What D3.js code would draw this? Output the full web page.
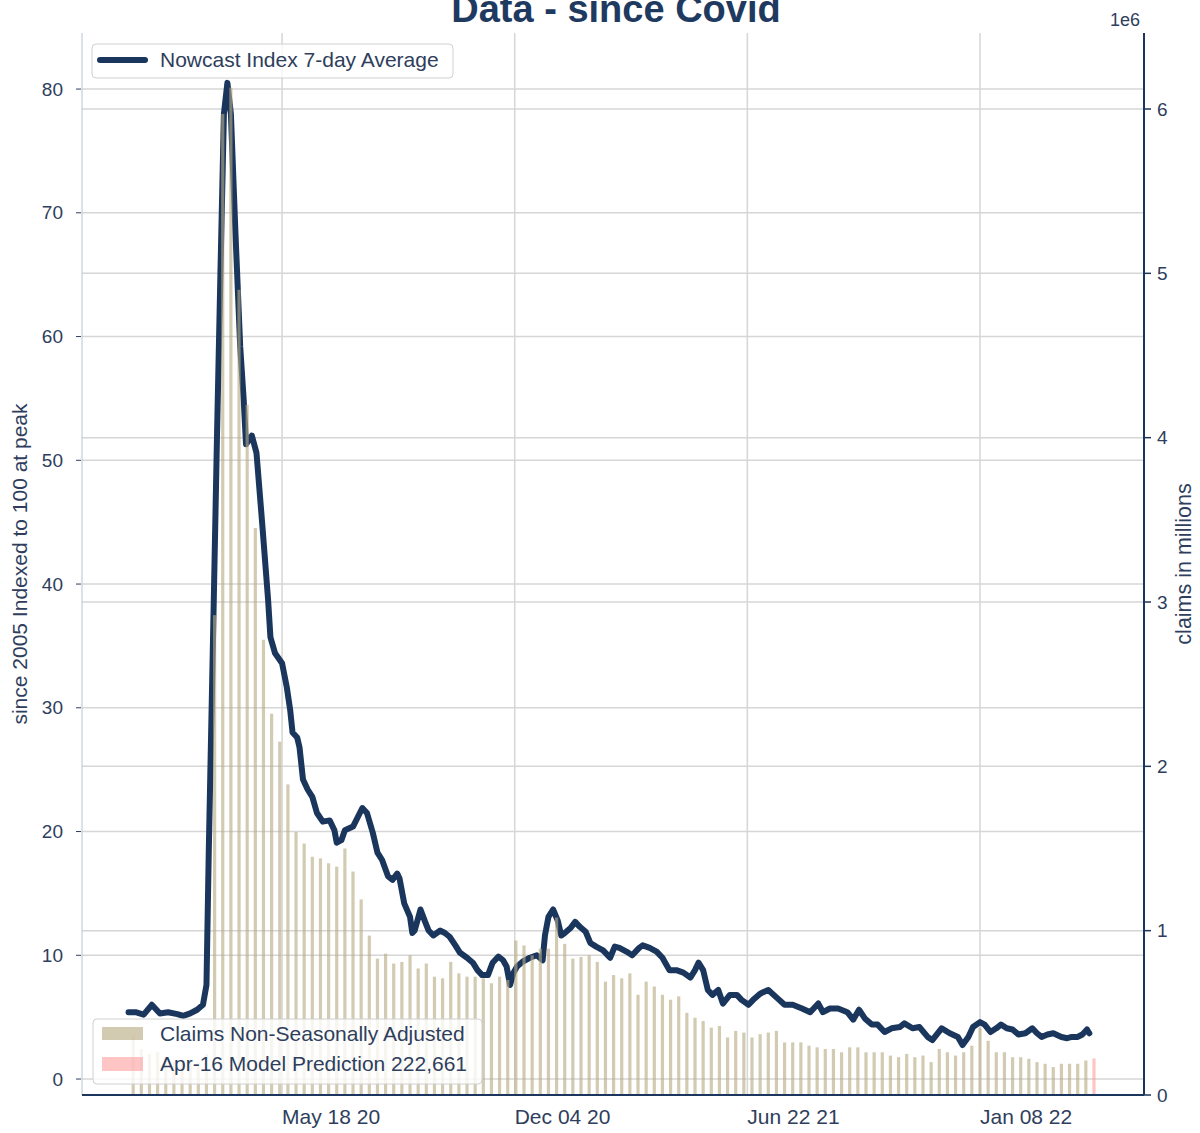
<!DOCTYPE html>
<html>
<head>
<meta charset="utf-8">
<script src="https://cdn.jsdelivr.net/npm/d3@7"></script>
<style>
  body { margin: 0; background: #fff; }
  svg text { font-family: "Liberation Sans", Arial, sans-serif; }
</style>
</head>
<body>
<div id="chart"></div>
<script>

// Nowcast index, 7-day average (left axis)
var lineDates = [
  '2020-01-07','2020-01-13','2020-01-20','2020-01-27','2020-02-03','2020-02-10','2020-02-18','2020-02-23','2020-02-29','2020-03-06',
  '2020-03-11','2020-03-14','2020-03-16','2020-03-20','2020-03-23','2020-03-26','2020-03-29','2020-04-01','2020-04-04','2020-04-08',
  '2020-04-12','2020-04-15','2020-04-17','2020-04-22','2020-04-26','2020-05-01','2020-05-06',
  '2020-05-08','2020-05-12','2020-05-18','2020-05-22','2020-05-25','2020-05-27','2020-05-31','2020-06-02','2020-06-05','2020-06-09',
  '2020-06-13','2020-06-17','2020-06-22','2020-06-28','2020-07-02','2020-07-04','2020-07-08','2020-07-11','2020-07-18','2020-07-26',
  '2020-07-30','2020-08-04','2020-08-08','2020-08-12','2020-08-17','2020-08-21','2020-08-25','2020-08-27','2020-08-31','2020-09-05',
  '2020-09-07','2020-09-09','2020-09-14','2020-09-18','2020-09-21','2020-09-25','2020-10-01','2020-10-05','2020-10-09','2020-10-14',
  '2020-10-18','2020-10-24','2020-10-29','2020-11-02','2020-11-06','2020-11-11','2020-11-15','2020-11-20','2020-11-24','2020-11-27',
  '2020-11-30','2020-12-03','2020-12-06','2020-12-11','2020-12-17','2020-12-23','2020-12-28','2020-12-30','2021-01-02','2021-01-06',
  '2021-01-10','2021-01-13','2021-01-16','2021-01-21','2021-01-25','2021-01-29','2021-02-03','2021-02-07','2021-02-12','2021-02-18',
  '2021-02-24','2021-02-28','2021-03-04','2021-03-10','2021-03-15','2021-03-21','2021-03-24','2021-03-30','2021-04-05','2021-04-10',
  '2021-04-16','2021-04-22','2021-04-28','2021-05-04','2021-05-08','2021-05-11','2021-05-15','2021-05-19','2021-05-23','2021-05-28',
  '2021-06-01','2021-06-07','2021-06-13','2021-06-17','2021-06-23','2021-06-27','2021-07-03','2021-07-10','2021-07-17','2021-07-24',
  '2021-07-31','2021-08-08','2021-08-15','2021-08-22','2021-08-26','2021-09-01','2021-09-08','2021-09-16','2021-09-21','2021-09-26',
  '2021-10-01','2021-10-07','2021-10-12','2021-10-18','2021-10-24','2021-10-31','2021-11-04','2021-11-11','2021-11-17','2021-11-24',
  '2021-11-28','2021-12-06','2021-12-13','2021-12-20','2021-12-24','2021-12-29','2022-01-02','2022-01-08','2022-01-12','2022-01-17',
  '2022-01-22','2022-01-26','2022-01-31','2022-02-05','2022-02-10','2022-02-16','2022-02-22','2022-02-26','2022-03-02','2022-03-07',
  '2022-03-12','2022-03-19','2022-03-24','2022-03-28','2022-04-02','2022-04-06','2022-04-10','2022-04-12'
];
var lineValues = [
  5.4, 5.4, 5.2, 6.0, 5.3, 5.4, 5.25, 5.1, 5.3, 5.6,
  6.0, 7.6, 18.5, 37.3, 51.7, 65.1, 78.0, 80.5, 78.0, 68.2,
  59.2, 54.9, 51.3, 52.0, 50.6, 44.8, 38.7,
  35.7, 34.4, 33.6, 31.7, 29.8, 28.0, 27.6, 26.8, 24.2, 23.4,
  22.8, 21.5, 20.8, 20.9, 20.1, 19.1, 19.3, 20.1, 20.4, 21.9,
  21.5, 19.9, 18.3, 17.7, 16.4, 16.1, 16.6, 16.2, 14.2, 13.1,
  11.8, 12.0, 13.7, 12.7, 12.0, 11.6, 12.0, 11.8, 11.5, 10.8,
  10.2, 9.8, 9.4, 8.8, 8.4, 8.4, 9.4, 9.9, 9.6, 9.1,
  7.6, 8.6, 9.1, 9.5, 9.8, 10.0, 9.6, 11.6, 13.1, 13.7,
  12.8, 11.6, 11.8, 12.2, 12.7, 12.3, 11.9, 11.0, 10.7, 10.4,
  9.8, 10.7, 10.6, 10.3, 10.0, 10.6, 10.8, 10.6, 10.3, 9.8,
  8.8, 8.8, 8.6, 8.2, 8.8, 9.4, 8.8, 7.2, 6.8, 7.2,
  6.1, 6.8, 6.8, 6.4, 6.0, 6.4, 6.9, 7.2, 6.6, 6.0,
  6.0, 5.7, 5.4, 6.1, 5.4, 5.7, 5.7, 5.4, 4.8, 5.6,
  4.9, 4.4, 4.4, 3.8, 4.1, 4.2, 4.5, 4.1, 4.2, 3.4,
  3.15, 4.1, 3.7, 3.4, 2.75, 3.4, 4.2, 4.6, 4.4, 3.8,
  4.1, 4.4, 4.1, 4.0, 3.6, 3.7, 4.1, 3.7, 3.4, 3.6,
  3.7, 3.4, 3.3, 3.4, 3.4, 3.6, 4.0, 3.7
];

// weekly non-seasonally adjusted claims, millions, weeks ending Saturday from 2020-01-11
var claimsStart = '2020-01-11';
var claimsValues = [
  0.36, 0.28, 0.25,                     // Jan 20
  0.26, 0.23, 0.20, 0.21, 0.22,         // Feb
  0.20, 0.25, 2.92, 5.97,               // Mar
  6.13, 4.90, 4.20, 3.45,               // Apr
  2.77, 2.32, 2.15, 1.89, 1.60,         // May
  1.53, 1.45, 1.44, 1.41,               // Jun
  1.39, 1.50, 1.36, 1.19,               // Jul
  0.97, 0.83, 0.86, 0.80, 0.81,         // Aug
  0.85, 0.77, 0.80, 0.72,               // Sep
  0.71, 0.81, 0.74, 0.72, 0.72,         // Oct
  0.71, 0.68, 0.72, 0.70,               // Nov
  0.94, 0.91, 0.85, 0.89,               // Dec
  0.89, 1.08, 0.92, 0.83, 0.84,         // Jan 21
  0.85, 0.81, 0.69, 0.73,               // Feb
  0.71, 0.74, 0.61, 0.69,               // Mar
  0.66, 0.61, 0.58, 0.60,               // Apr
  0.50, 0.47, 0.45, 0.41, 0.42,         // May
  0.35, 0.39, 0.38, 0.35,               // Jun
  0.37, 0.38, 0.39, 0.32, 0.32,         // Jul
  0.32, 0.30, 0.29, 0.28,               // Aug
  0.28, 0.26, 0.29, 0.29,               // Sep
  0.26, 0.26, 0.26, 0.24, 0.23,         // Oct
  0.25, 0.23, 0.24, 0.20,               // Nov
  0.28, 0.26, 0.24, 0.26,               // Dec
  0.30, 0.41, 0.33, 0.26, 0.26,         // Jan 22
  0.23, 0.23, 0.22, 0.20,               // Feb
  0.19, 0.17, 0.19, 0.19,               // Mar
  0.19, 0.21                            // Apr
];

var predictionDate  = '2022-04-16';
var predictionValue = 222661;

var xTickDates  = ['2020-05-18', '2020-12-04', '2021-06-22', '2022-01-08'];
var leftTicks   = [0, 10, 20, 30, 40, 50, 60, 70, 80];
var rightTicks  = [0, 1, 2, 3, 4, 5, 6];

var legendTop    = ['Nowcast Index 7-day Average'];
var legendBottom = ['Claims Non-Seasonally Adjusted', 'Apr-16 Model Prediction 222,661'];

var W = 1200, H = 1133;
var margin = {top: 33, right: 56, bottom: 38, left: 82};
var width  = W - margin.left - margin.right;
var height = H - margin.top - margin.bottom;

var navy  = '#1b365d';
var txt   = '#2e3e5c';
var gridC = '#d6d6d6';
var tan   = '#b7ab82';
var pink  = '#ff9c9c';

var parse = d3.utcParse('%Y-%m-%d');

var line = lineDates.map(function(d, i) { return {date: parse(d), value: lineValues[i]}; });

var claims = claimsValues.map(function(v, i) {
  return {date: d3.utcDay.offset(parse(claimsStart), 7 * i), value: v * 1e6};
});

var x = d3.scaleUtc()
  .domain([parse('2019-11-28'), parse('2022-05-29')])
  .range([0, width]);

var yL = d3.scaleLinear()
  .domain([-1.29, 84.53])
  .range([height, 0]);

var yR = d3.scaleLinear()
  .domain([0, 6.4625e6])
  .range([height, 0]);

var svg = d3.select('#chart').append('svg')
  .attr('width', W)
  .attr('height', H);

var g = svg.append('g')
  .attr('transform', 'translate(' + margin.left + ',' + margin.top + ')');

// grids
g.append('g').selectAll('line')
  .data(leftTicks)
.enter().append('line')
  .attr('x1', 0).attr('x2', width)
  .attr('y1', function(d) { return yL(d); })
  .attr('y2', function(d) { return yL(d); })
  .attr('stroke', gridC).attr('stroke-width', 1.5);

g.append('g').selectAll('line')
  .data(rightTicks)
.enter().append('line')
  .attr('x1', 0).attr('x2', width)
  .attr('y1', function(d) { return yR(d * 1e6); })
  .attr('y2', function(d) { return yR(d * 1e6); })
  .attr('stroke', gridC).attr('stroke-width', 1.5);

g.append('g').selectAll('line')
  .data(xTickDates)
.enter().append('line')
  .attr('x1', function(d) { return x(parse(d)); })
  .attr('x2', function(d) { return x(parse(d)); })
  .attr('y1', 0).attr('y2', height)
  .attr('stroke', gridC).attr('stroke-width', 1.5);

// nowcast line
g.append('path')
  .datum(line)
  .attr('fill', 'none')
  .attr('stroke', navy)
  .attr('stroke-width', 6)
  .attr('stroke-linejoin', 'round')
  .attr('stroke-linecap', 'round')
  .attr('d', d3.line()
    .x(function(d) { return x(d.date); })
    .y(function(d) { return yL(d.value); }));

// bars on top, semi transparent
var halfBar = function(d) { return x(d3.utcHour.offset(d, 33)) - x(d); };

g.append('g').selectAll('.bar')
  .data(claims)
.enter().append('rect')
  .attr('class', 'bar')
  .attr('x', function(d) { return x(d.date) - halfBar(d.date); })
  .attr('y', function(d) { return yR(d.value); })
  .attr('width', function(d) { return 2 * halfBar(d.date); })
  .attr('height', function(d) { return height - yR(d.value); })
  .attr('fill', tan)
  .attr('fill-opacity', 0.62);

var pd = parse(predictionDate);
g.append('rect')
  .attr('x', x(pd) - halfBar(pd))
  .attr('y', yR(predictionValue))
  .attr('width', 2 * halfBar(pd))
  .attr('height', height - yR(predictionValue))
  .attr('fill', pink)
  .attr('fill-opacity', 0.6);

// spines
g.append('line')
  .attr('x1', 0).attr('x2', 0).attr('y1', 0).attr('y2', height)
  .attr('stroke', '#b9c1cf').attr('stroke-width', 1);
g.append('line')
  .attr('x1', width).attr('x2', width).attr('y1', 0).attr('y2', height)
  .attr('stroke', navy).attr('stroke-width', 2);
g.append('line')
  .attr('x1', 0).attr('x2', width).attr('y1', height).attr('y2', height)
  .attr('stroke', navy).attr('stroke-width', 2);

// left ticks
var lt = g.append('g').selectAll('g')
  .data(leftTicks)
.enter().append('g')
  .attr('transform', function(d) { return 'translate(0,' + yL(d) + ')'; });
lt.append('line')
  .attr('x1', -6).attr('x2', -1)
  .attr('stroke', txt).attr('stroke-width', 1);
lt.append('text')
  .attr('x', -19)
  .attr('dy', '0.35em')
  .style('text-anchor', 'end')
  .style('font-size', '19px')
  .attr('fill', txt)
  .text(function(d) { return d; });

// right ticks
var rt = g.append('g').selectAll('g')
  .data(rightTicks)
.enter().append('g')
  .attr('transform', function(d) { return 'translate(' + width + ',' + yR(d * 1e6) + ')'; });
rt.append('line')
  .attr('x1', 0).attr('x2', 7)
  .attr('stroke', navy).attr('stroke-width', 1.5);
rt.append('text')
  .attr('x', 13)
  .attr('dy', '0.35em')
  .style('font-size', '19px')
  .attr('fill', txt)
  .text(function(d) { return d; });

// x tick labels
var fmt = d3.utcFormat('%b %d %y');
g.append('g').selectAll('text')
  .data(xTickDates)
.enter().append('text')
  .attr('x', function(d) { return x(parse(d)); })
  .attr('y', height + 29)
  .style('font-size', '21px')
  .attr('fill', txt)
  .text(function(d) { return fmt(parse(d)); });

// axis labels
svg.append('text')
  .attr('transform', 'translate(27,' + (margin.top + height / 2) + ') rotate(-90)')
  .style('text-anchor', 'middle')
  .style('font-size', '21px')
  .attr('fill', txt)
  .text('since 2005 Indexed to 100 at peak');

svg.append('text')
  .attr('transform', 'translate(1191,' + (margin.top + height / 2) + ') rotate(-90)')
  .style('text-anchor', 'middle')
  .style('font-size', '21.5px')
  .attr('fill', txt)
  .text('claims in millions');

svg.append('text')
  .attr('x', 1140).attr('y', 26)
  .style('text-anchor', 'end')
  .style('font-size', '18px')
  .attr('fill', txt)
  .text('1e6');

// title (sits at the very top edge like the original)
svg.append('text')
  .attr('x', 616).attr('y', 22)
  .style('text-anchor', 'middle')
  .style('font-size', '38px')
  .style('font-weight', 'bold')
  .attr('fill', '#1f3a60')
  .text('Data - since Covid');

// legend top
var l1 = svg.append('g');
l1.append('rect')
  .attr('x', 92).attr('y', 44).attr('width', 361).attr('height', 34).attr('rx', 4)
  .attr('fill', '#fff').attr('fill-opacity', 0.8)
  .attr('stroke', '#d0d0d0');
l1.append('line')
  .attr('x1', 100).attr('x2', 145).attr('y1', 60).attr('y2', 60)
  .attr('stroke', navy).attr('stroke-width', 6).attr('stroke-linecap', 'round');
l1.append('text')
  .attr('x', 160).attr('y', 67)
  .style('font-size', '21px')
  .attr('fill', txt)
  .text(legendTop[0]);

// legend bottom
var l2 = svg.append('g');
l2.append('rect')
  .attr('x', 93).attr('y', 1019).attr('width', 389).attr('height', 65).attr('rx', 4)
  .attr('fill', '#fff').attr('fill-opacity', 0.8)
  .attr('stroke', '#d0d0d0');
l2.append('rect')
  .attr('x', 102).attr('y', 1027).attr('width', 41).attr('height', 13)
  .attr('fill', tan).attr('fill-opacity', 0.62);
l2.append('rect')
  .attr('x', 102).attr('y', 1057).attr('width', 41).attr('height', 14)
  .attr('fill', pink).attr('fill-opacity', 0.6);
l2.selectAll('.lbl')
  .data(legendBottom)
.enter().append('text')
  .attr('class', 'lbl')
  .attr('x', 160)
  .attr('y', function(d, i) { return 1041 + i * 30; })
  .style('font-size', '21px')
  .attr('fill', txt)
  .text(function(d) { return d; });

</script>
</body>
</html>
